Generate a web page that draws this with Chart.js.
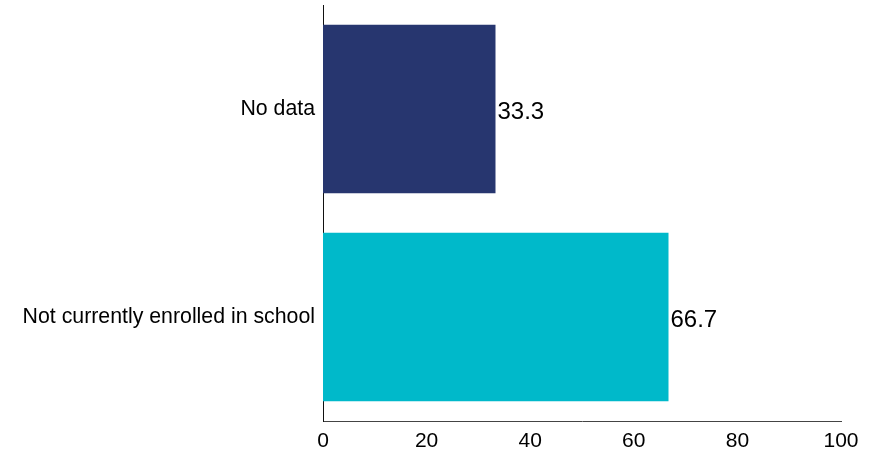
<!DOCTYPE html>
<html>
<head>
    <meta charset="UTF-8">
    <title>Enrollment</title>
    <script src="https://cdn.jsdelivr.net/npm/chart.js"></script>
    <style>
        body { margin: 0; padding: 0; background: #fff; }
        .chart-container { position: relative; width: 880px; height: 449px; }
    </style>
</head>
<body>
    <div class="chart-container">
        <canvas id="barChart" width="880" height="449"></canvas>
    </div>

    <script>
        // data
        const categories = ['No data', 'Not currently enrolled in school'];
        const values = [33.3, 66.7];
        const barColors = ['#27366F', '#00B9CA'];
        const xTicks = [0, 20, 40, 60, 80, 100];

        const FONT = '"Liberation Sans", Arial, sans-serif';

        // value labels at bar ends
        const valueLabels = {
            id: 'valueLabels',
            afterDatasetsDraw(chart) {
                const ctx = chart.ctx;
                const meta = chart.getDatasetMeta(0);
                ctx.save();
                ctx.font = '24px ' + FONT;
                ctx.fillStyle = '#000';
                ctx.textAlign = 'left';
                ctx.textBaseline = 'middle';
                meta.data.forEach((bar, i) => {
                    ctx.fillText(values[i].toFixed(1), bar.x + 2, bar.y + 3);
                });
                ctx.restore();
            }
        };

        new Chart(document.getElementById('barChart'), {
            type: 'bar',
            data: {
                labels: categories,
                datasets: [{
                    data: values,
                    backgroundColor: barColors,
                    borderWidth: 0,
                    barPercentage: 1,
                    categoryPercentage: 0.81
                }]
            },
            options: {
                indexAxis: 'y',
                responsive: false,
                animation: false,
                layout: { padding: { top: 5, right: 39, bottom: 0, left: 0 } },
                plugins: {
                    legend: { display: false },
                    tooltip: { enabled: false }
                },
                scales: {
                    x: {
                        min: 0,
                        max: 100,
                        afterBuildTicks(axis) {
                            axis.ticks = xTicks.map(v => ({ value: v }));
                        },
                        grid: { display: false, drawTicks: false },
                        border: { display: true, color: '#444', width: 1 },
                        ticks: {
                            color: '#000',
                            padding: 8,
                            font: { family: FONT, size: 21 }
                        },
                        afterFit(axis) {
                            axis.height = 28;
                            axis.paddingLeft = 0;
                            axis.paddingRight = 0;
                        }
                    },
                    y: {
                        grid: { display: false, drawTicks: false },
                        border: { display: true, color: '#111', width: 1 },
                        ticks: {
                            color: '#000',
                            padding: 8,
                            font: { family: FONT, size: 21.3 }
                        },
                        afterFit(axis) {
                            axis.width = 323;
                            axis.paddingTop = 0;
                            axis.paddingBottom = 0;
                        }
                    }
                }
            },
            plugins: [valueLabels]
        });
    </script>
</body>
</html>
